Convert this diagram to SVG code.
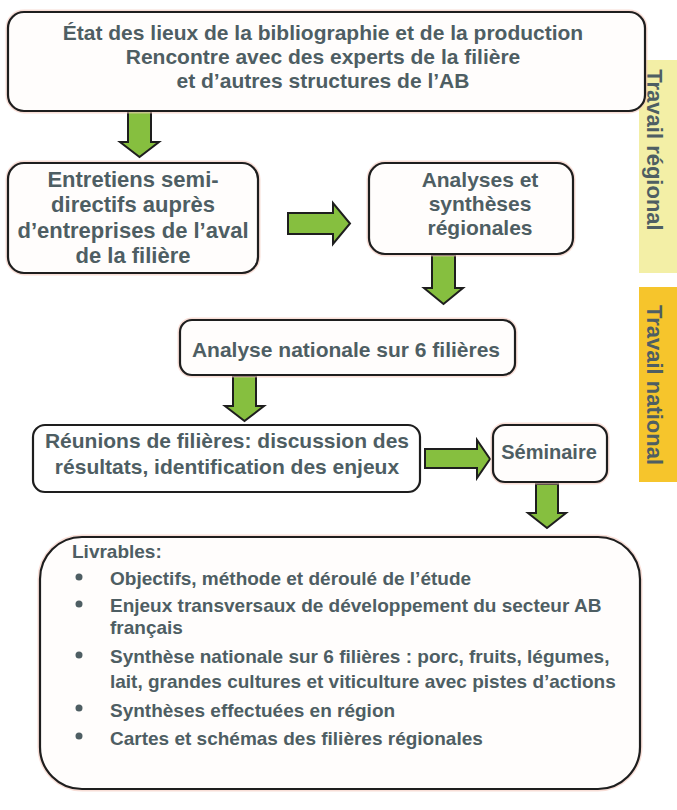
<svg xmlns="http://www.w3.org/2000/svg" width="677" height="810" viewBox="0 0 677 810">
<defs>
<style>
.box{fill:#fffdfc;stroke:#1e1e1e;stroke-width:2.2}
.halo{fill:none;stroke:#f4c8bc;stroke-width:5;opacity:0.6}
.t{font-family:"Liberation Sans",Arial,sans-serif;font-weight:bold;fill:#4e5e63}
.c{text-anchor:middle}
.arr{fill:#86bf3f;stroke:#1e1e1e;stroke-width:2;stroke-linejoin:miter}
.side{font-family:"Liberation Sans",Arial,sans-serif;font-weight:bold;fill:#4e5e63;font-size:22px;text-anchor:middle}
</style>
</defs>
<rect width="677" height="810" fill="#ffffff"/>
<g id="band-regional">
<rect x="639" y="60" width="38" height="213" fill="#f3efa6"/>
<text class="side" transform="translate(647,150) rotate(90)">Travail régional</text>
</g>
<g id="band-national">
<rect x="639" y="287" width="38" height="195" fill="#f6c52c"/>
<text class="side" transform="translate(647,385) rotate(90)">Travail national</text>
</g>
<g id="connectors">
<path class="arr" d="M128,111 H151 V142 H159 L139.5,157 L120,142 H128 Z"/>
<path class="arr" d="M288,213 H333 V203 L350,223.5 L333,244 V234 H288 Z"/>
<path class="arr" d="M432,255 H455 V288 H463 L443.5,304 L424,288 H432 Z"/>
<path class="arr" d="M233,376 H256 V406 H264 L244.5,421 L225,406 H233 Z"/>
<path class="arr" d="M425,449 H477 V440 L490,459 L477,478 V468 H425 Z"/>
<path class="arr" d="M536,484 H558 V513 H566 L547,528 L528,513 H536 Z"/>
</g>
<g id="node-etat">
<rect class="halo" x="8" y="12" width="637" height="99" rx="16"/>
<rect class="box" x="8" y="12" width="637" height="99" rx="16"/>
<text class="t c" font-size="21" x="323" y="40">État des lieux de la bibliographie et de la production</text>
<text class="t c" font-size="21" x="323" y="64">Rencontre avec des experts de la filière</text>
<text class="t c" font-size="21" x="323" y="88">et d’autres structures de l’AB</text>
</g>
<g id="node-entretiens">
<rect class="halo" x="8" y="163" width="250" height="110" rx="16"/>
<rect class="box" x="8" y="163" width="250" height="110" rx="16"/>
<text class="t c" font-size="22" x="133" y="187">Entretiens semi-</text>
<text class="t c" font-size="22" x="133" y="212">directifs auprès</text>
<text class="t c" font-size="22" x="133" y="238">d’entreprises de l’aval</text>
<text class="t c" font-size="22" x="133" y="263">de la filière</text>
</g>
<g id="node-analyses">
<rect class="halo" x="369" y="163" width="204" height="91" rx="16"/>
<rect class="box" x="369" y="163" width="204" height="91" rx="16"/>
<text class="t c" font-size="21" x="480" y="187">Analyses et</text>
<text class="t c" font-size="21" x="480" y="211">synthèses</text>
<text class="t c" font-size="21" x="480" y="235">régionales</text>
</g>
<g id="node-nationale">
<rect class="halo" x="180" y="320" width="335" height="55" rx="12"/>
<rect class="box" x="180" y="320" width="335" height="55" rx="12"/>
<text class="t c" font-size="21" x="346" y="357">Analyse nationale sur 6 filières</text>
</g>
<g id="node-reunions">
<rect class="box" x="33" y="425" width="387" height="67" rx="12" style="fill:#ffffff"/>
<text class="t c" font-size="21" x="227" y="448">Réunions de filières: discussion des</text>
<text class="t c" font-size="21" x="227" y="474">résultats, identification des enjeux</text>
</g>
<g id="node-seminaire">
<rect class="halo" x="493" y="425" width="114" height="57" rx="12"/>
<rect class="box" x="493" y="425" width="114" height="57" rx="12"/>
<text class="t c" font-size="20" x="549" y="459">Séminaire</text>
</g>
<g id="node-livrables">
<rect class="halo" x="40" y="537" width="600" height="252" rx="42"/>
<rect class="box" x="40" y="537" width="600" height="252" rx="42"/>
<text class="t" font-size="19" x="72" y="558">Livrables:</text>
<g fill="#4e5e63">
<circle cx="79" cy="577" r="3.5"/>
<circle cx="79" cy="604" r="3.5"/>
<circle cx="79" cy="655" r="3.5"/>
<circle cx="79" cy="708" r="3.5"/>
<circle cx="79" cy="736" r="3.5"/>
</g>
<text class="t" font-size="19" x="110" y="585">Objectifs, méthode et déroulé de l’étude</text>
<text class="t" font-size="19" x="110" y="612">Enjeux transversaux de développement du secteur AB</text>
<text class="t" font-size="19" x="110" y="634">français</text>
<text class="t" font-size="19" x="110" y="663">Synthèse nationale sur 6 filières : porc, fruits, légumes,</text>
<text class="t" font-size="19" x="110" y="688">lait, grandes cultures et viticulture avec pistes d’actions</text>
<text class="t" font-size="19" x="110" y="717">Synthèses effectuées en région</text>
<text class="t" font-size="19" x="110" y="745">Cartes et schémas des filières régionales</text>
</g>
</svg>
